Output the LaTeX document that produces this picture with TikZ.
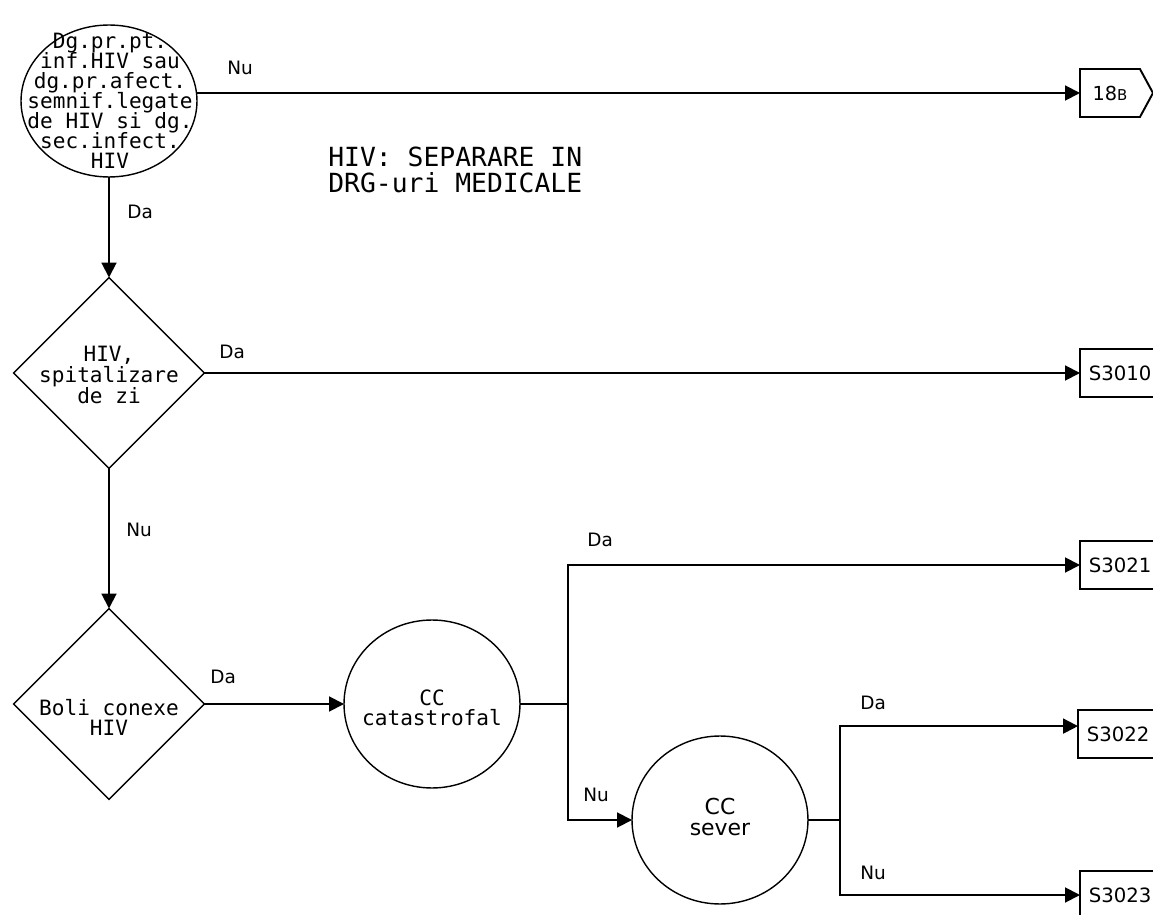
\documentclass[tikz,border=0pt]{standalone}
\usepackage{fontspec}
\setmainfont{DejaVu Sans}
\setmonofont{DejaVu Sans Mono}
\usetikzlibrary{arrows.meta, shapes.geometric, shapes.symbols}
\newcommand{\tightlines}{\lineskiplimit-10pt\relax}

\begin{document}
\begin{tikzpicture}[x=0.02cm, y=-0.02cm,
    oval/.style={draw, line width=0.8pt, ellipse, inner sep=0pt, outer sep=0pt, minimum width=3.52cm, minimum height=3.36cm},
    rhomb/.style={draw, line width=0.8pt, diamond, inner sep=0pt, outer sep=0pt, minimum width=3.82cm, minimum height=3.82cm},
    txt/.style={align=center, inner sep=0pt, font=\ttfamily\fontsize{12}{11.4}\selectfont\tightlines},
    drg/.style={draw, line width=1.1pt, rectangle, anchor=west, outer sep=0pt, minimum height=0.96cm, text width=1.8cm, inner xsep=5pt, align=left, font=\fontsize{11.2}{13}\selectfont},
    lbl/.style={anchor=west, inner sep=0pt, font=\fontsize{10.5}{12}\selectfont},
    arr/.style={line width=1.1pt, -{Triangle[length=8.5pt, width=8.5pt]}},
    link/.style={line width=0.6pt}]
    \useasboundingbox (0,0) rectangle (1153,915);
    \clip (0,0) rectangle (1153,915);
    % Start test
    \node[oval, minimum height=3.04cm] (hiv) at (109,101) {};
    \node[txt] (hivtxt) at (110,101) {Dg.pr.pt.\\inf.HIV sau\\dg.pr.afect.\\semnif.legate\\de HIV si dg.\\sec.infect.\\HIV};
    % Title
    \node[anchor=west, inner sep=0pt, align=left, font=\ttfamily\fontsize{15}{14.7}\selectfont] (title) at (328,170) {HIV: SEPARARE IN\\DRG-uri MEDICALE};
    % Decisions
    \node[rhomb] (spit) at (109,373) {};
    \node[txt, font=\ttfamily\fontsize{12}{12}\selectfont\tightlines] (spittxt) at (109,375) {HIV,\\spitalizare\\de zi};
    \node[rhomb] (boli) at (109,704) {};
    \node[txt] (bolitxt) at (109,717) {Boli conexe\\HIV};
    % CC tests
    \node[oval] (cccat) at (432,704) {};
    \node[txt] (cccattxt) at (432,708) {CC\\catastrofal};
    \node[oval] (ccsev) at (720,820) {};
    \node[align=center, inner sep=0pt, font=\fontsize{12.5}{11.4}\selectfont\tightlines] (ccsevtxt) at (720,817) {CC\\sever};
    % DRG boxes
    \node[signal, signal to=east, signal pointer angle=123, draw, line width=1.1pt, anchor=west, outer sep=0pt, minimum height=0.96cm, minimum width=1.46cm, inner sep=0pt, font=\fontsize{11}{13}\selectfont] (b18) at (1080,93) {18{\fontsize{8.5}{10}\selectfont B}};
    \node[drg] (s3010) at (1080,373) {S3010};
    \node[drg] (s3021) at (1080,565) {S3021};
    \node[drg] (s3022) at (1078,734) {S3022};
    \node[drg] (s3023) at (1080,895) {S3023};
    % Junctions
    \coordinate (ja) at (568,704);
    \coordinate (jb) at (840,820);
    % Connectors
    \draw[arr] (b18.west -| hiv.east) -- (b18.west);
    \draw[arr] (hiv.south) -- (spit.north);
    \draw[arr] (spit.east) -- (s3010.west);
    \draw[arr] (spit.south) -- (boli.north);
    \draw[arr] (boli.east) -- (cccat.west);
    \draw[link] (cccat.east) -- (ja);
    \draw[arr] (ja) |- (s3021.west);
    \draw[arr] (ja) |- (ccsev.west);
    \draw[link] (ccsev.east) -- (jb);
    \draw[arr] (jb) |- ([yshift=4.5pt]s3022.west);
    \draw[arr] (jb) |- (s3023.west);
    % Labels
    \node[lbl] (nu1) at (227,68) {Nu};
    \node[lbl] (da1) at (127,212) {Da};
    \node[lbl] (da2) at (219,352) {Da};
    \node[lbl] (nu2) at (126,530) {Nu};
    \node[lbl] (da3) at (210,677) {Da};
    \node[lbl] (da4) at (587,540) {Da};
    \node[lbl] (nu3) at (583,795) {Nu};
    \node[lbl] (da5) at (860,703) {Da};
    \node[lbl] (nu4) at (860,873) {Nu};
\end{tikzpicture}
\end{document}
